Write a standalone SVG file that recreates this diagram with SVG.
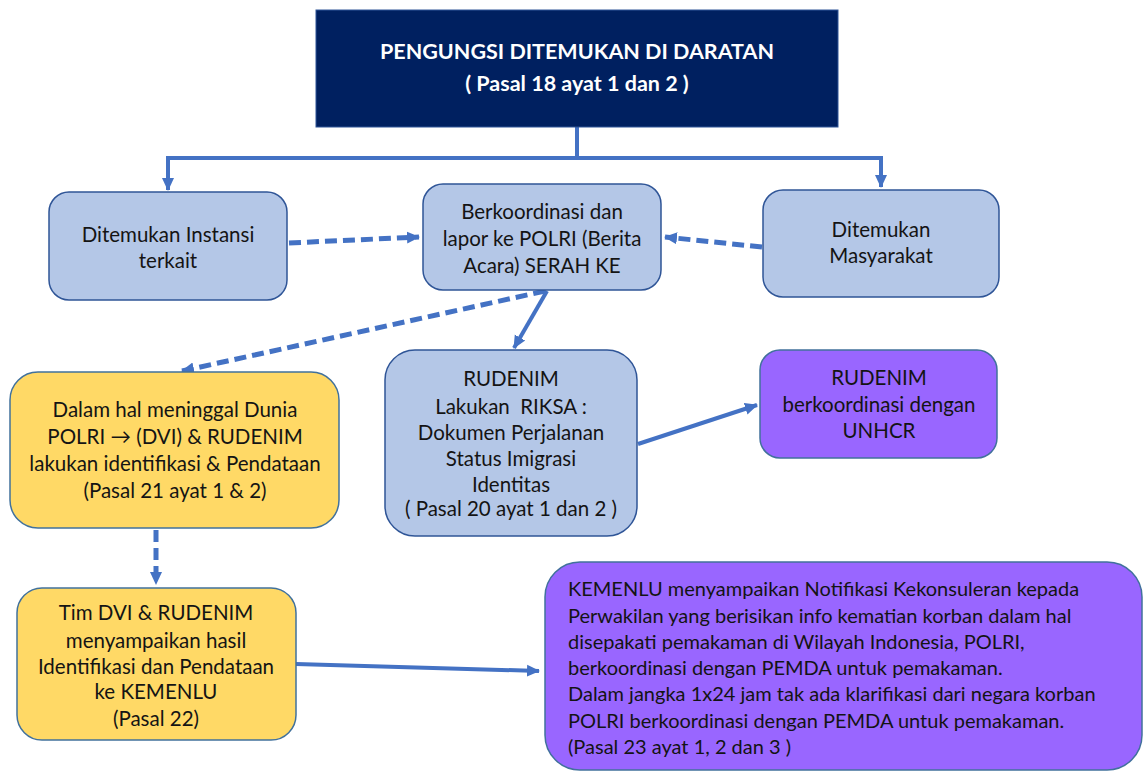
<svg xmlns="http://www.w3.org/2000/svg" width="1144" height="772" viewBox="0 0 1144 772">
<style>
.t{font-family:Lato,"Liberation Sans",sans-serif;font-size:20.5px;fill:#141414;text-anchor:middle}
.tl{font-family:Lato,"Liberation Sans",sans-serif;font-size:20px;fill:#141414}
.title{font-family:Lato,"Liberation Sans",sans-serif;font-size:21.5px;font-weight:bold;fill:#ffffff;text-anchor:middle}
.blue{fill:#B4C7E7;stroke:#2F5597;stroke-width:1.5}
.yellow{fill:#FFD966;stroke:#41719C;stroke-width:1.5}
.purple{fill:#9966FF;stroke:#41719C;stroke-width:1.5}
.solid{fill:none;stroke:#4472C4;stroke-width:4}
.dash{fill:none;stroke:#4472C4;stroke-width:5;stroke-dasharray:12 6}
</style>
<defs>
<marker id="ah" markerUnits="userSpaceOnUse" markerWidth="14" markerHeight="14" refX="12" refY="7" orient="auto">
<path d="M0,1 L13,7 L0,13 Z" fill="#4472C4"/>
</marker>
</defs>
<rect width="1144" height="772" fill="#ffffff"/>
<g id="connectors">
<path class="solid" d="M577,127 V158 M166,158 H883"/>
<path class="solid" d="M168,158 V190" marker-end="url(#ah)"/>
<path class="solid" d="M881,158 V187" marker-end="url(#ah)"/>
<path class="dash" d="M289,243 L419,237" marker-end="url(#ah)"/>
<path class="dash" d="M762,247 L665,237" marker-end="url(#ah)"/>
<path class="dash" d="M545,291 L182,371" marker-end="url(#ah)"/>
<path class="solid" d="M547,291 L514,348" marker-end="url(#ah)"/>
<path class="solid" d="M638,444 L757,405" marker-end="url(#ah)"/>
<path class="dash" d="M156,530 V584" marker-end="url(#ah)"/>
<path class="solid" d="M296,664 L539,671" marker-end="url(#ah)"/>
</g>
<g id="n-title">
<rect x="316" y="10" width="522" height="117" fill="#002060" stroke="#2F5597" stroke-width="1"/>
<text class="title" x="577" y="59">PENGUNGSI DITEMUKAN DI DARATAN</text>
<text class="title" x="577" y="91">( Pasal 18 ayat 1 dan 2 )</text>
</g>
<g id="n-instansi">
<rect class="blue" x="49" y="192" width="238" height="108" rx="20"/>
<text class="t" x="168" y="242">Ditemukan Instansi</text>
<text class="t" x="168" y="268">terkait</text>
</g>
<g id="n-polri">
<rect class="blue" x="423" y="184" width="238" height="106" rx="20"/>
<text class="t" x="542" y="219">Berkoordinasi dan</text>
<text class="t" x="542" y="246">lapor ke POLRI (Berita</text>
<text class="t" x="542" y="273">Acara) SERAH KE</text>
</g>
<g id="n-masyarakat">
<rect class="blue" x="763" y="190" width="236" height="107" rx="20"/>
<text class="t" x="881" y="237">Ditemukan</text>
<text class="t" x="881" y="263">Masyarakat</text>
</g>
<g id="n-meninggal">
<rect class="yellow" x="10" y="372" width="329" height="156" rx="28"/>
<text class="t" x="175" y="417">Dalam hal meninggal Dunia</text>
<text class="t" x="175" y="444">POLRI → (DVI) &amp; RUDENIM</text>
<text class="t" x="175" y="471">lakukan identifikasi &amp; Pendataan</text>
<text class="t" x="175" y="498">(Pasal 21 ayat 1 &amp; 2)</text>
</g>
<g id="n-rudenim">
<rect class="blue" x="385" y="350" width="252" height="186" rx="30"/>
<text class="t" x="511" y="386">RUDENIM</text>
<text class="t" x="511" y="414" xml:space="preserve">Lakukan  RIKSA :</text>
<text class="t" x="511" y="440">Dokumen Perjalanan</text>
<text class="t" x="511" y="466">Status Imigrasi</text>
<text class="t" x="511" y="492">Identitas</text>
<text class="t" x="511" y="516">( Pasal 20 ayat 1 dan 2 )</text>
</g>
<g id="n-unhcr">
<rect class="purple" x="760" y="350" width="237" height="108" rx="20"/>
<text class="t" x="879" y="385">RUDENIM</text>
<text class="t" x="879" y="412">berkoordinasi dengan</text>
<text class="t" x="879" y="438">UNHCR</text>
</g>
<g id="n-timdvi">
<rect class="yellow" x="17" y="588" width="279" height="152" rx="25"/>
<text class="t" x="156" y="620">Tim DVI &amp; RUDENIM</text>
<text class="t" x="156" y="648">menyampaikan hasil</text>
<text class="t" x="156" y="674">Identifikasi dan Pendataan</text>
<text class="t" x="156" y="699">ke KEMENLU</text>
<text class="t" x="156" y="726">(Pasal 22)</text>
</g>
<g id="n-kemenlu">
<rect class="purple" x="545" y="562" width="597" height="208" rx="35"/>
<text class="tl" x="568" y="596">KEMENLU menyampaikan Notifikasi Kekonsuleran kepada</text>
<text class="tl" x="568" y="623">Perwakilan yang berisikan info kematian korban dalam hal</text>
<text class="tl" x="568" y="649">disepakati pemakaman di Wilayah Indonesia, POLRI,</text>
<text class="tl" x="568" y="675">berkoordinasi dengan PEMDA untuk pemakaman.</text>
<text class="tl" x="568" y="701">Dalam jangka 1x24 jam tak ada klarifikasi dari negara korban</text>
<text class="tl" x="568" y="728">POLRI berkoordinasi dengan PEMDA untuk pemakaman.</text>
<text class="tl" x="568" y="754">(Pasal 23 ayat 1, 2 dan 3 )</text>
</g>
</svg>
